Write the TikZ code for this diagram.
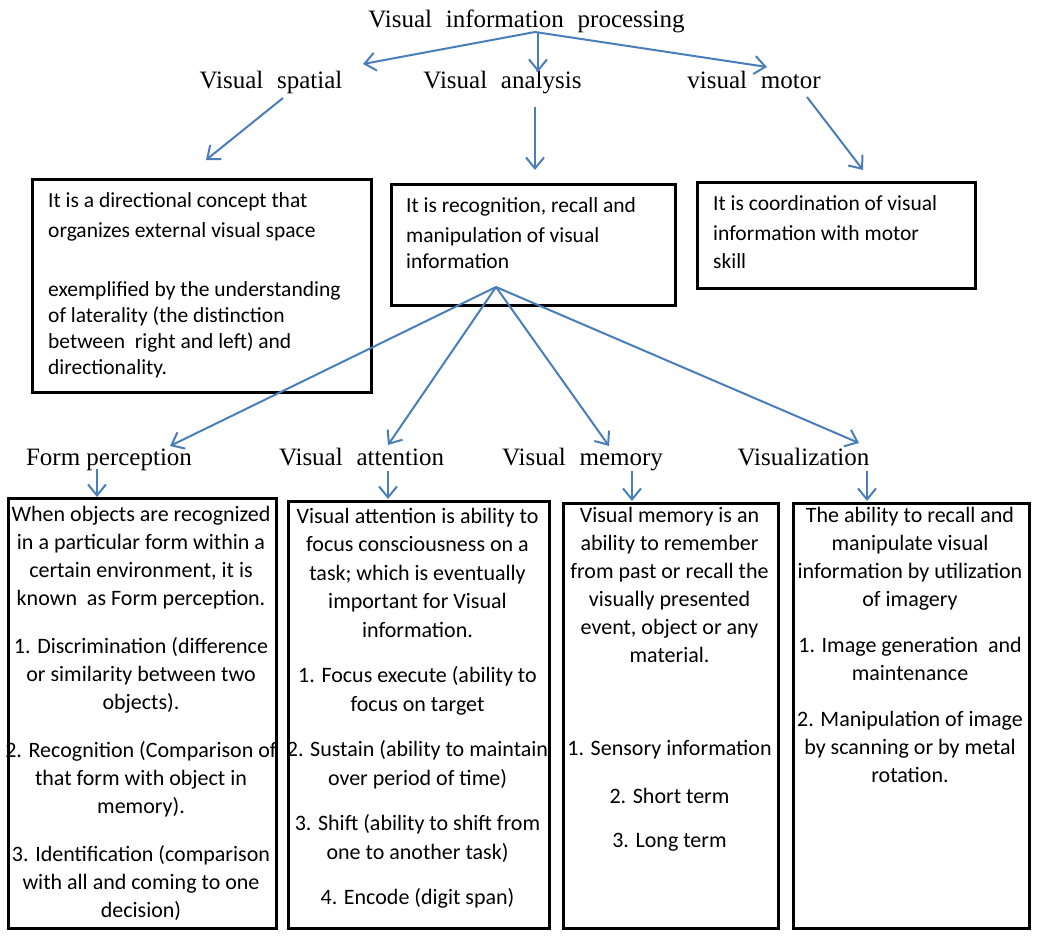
\documentclass[tikz,border=0pt]{standalone}
\usepackage{fontspec}
\setmainfont{Liberation Serif}
\newfontfamily\boxfont{Carlito}
\usetikzlibrary{arrows.meta}
\definecolor{arrowblue}{HTML}{4A7EBB}
\newcommand{\topfix}{\rule{0pt}{20pt}}
\begin{document}
\begin{tikzpicture}[x=1pt,y=-1pt,
  head/.style={font=\fontsize{25}{30}\selectfont, inner sep=0pt, anchor=base},
  boxtxt/.style={font=\boxfont\fontsize{21.5}{26}\selectfont, inner sep=0pt, align=left, anchor=north west},
  bottxt/.style={font=\boxfont\fontsize{22}{28}\selectfont, inner sep=0pt, align=center, anchor=north},
  frame/.style={draw=black, line width=2.5pt, inner sep=0pt, anchor=north west},
  link/.style={draw=arrowblue, line width=2pt, -{Straight Barb[length=11pt,width=18pt]}}]
\useasboundingbox (0,0) rectangle (1043,938);
\fill[white] (0,0) rectangle (1043,938);
% headings
\node[head] (title) at (526.5,27) {Visual\hspace{0.3em} information\hspace{0.3em} processing};
\node[head] (hspat) at (271,88) {Visual\hspace{0.3em} spatial};
\node[head] (hana) at (502.5,88) {Visual\hspace{0.3em} analysis};
\node[head] (hmot) at (754,88) {visual\hspace{0.3em} motor};
\node[head] (hform) at (109,465) {Form perception};
\node[head] (hatt) at (361.5,465) {Visual\hspace{0.3em} attention};
\node[head] (hmem) at (582.5,465) {Visual\hspace{0.3em} memory};
\node[head] (hviz) at (803.5,465) {Visualization};
% boxes
\node[frame, minimum width=339pt, minimum height=213pt] (b1) at (31,178) {};
\node[frame, minimum width=284pt, minimum height=121pt] (b2) at (390,183) {};
\node[frame, minimum width=278pt, minimum height=106pt] (b3) at (696,181) {};
\node[frame, minimum width=268pt, minimum height=430pt] (b4) at (7,497) {};
\node[frame, minimum width=261pt, minimum height=427pt] (b5) at (287,500) {};
\node[frame, minimum width=215pt, minimum height=425pt] (b6) at (562,502) {};
\node[frame, minimum width=236pt, minimum height=425pt] (b7) at (792,502) {};
% top box texts (position = first baseline - 20)
\node[boxtxt] (t1) at (48,187) {\topfix It is a directional concept that\\[4pt]
organizes external visual space\\[33pt]
exemplified by the understanding\\
of laterality (the distinction\\
between\ \ right and left) and\\
directionality.};
\node[boxtxt] (t2) at (406,192) {\topfix It is recognition, recall and\\[4pt]
manipulation of visual\\
information};
\node[boxtxt] (t3) at (713,190) {\topfix It is coordination of visual\\[4pt]
information with motor\\[2pt]
skill};
% bottom box texts
\node[bottxt] (t4) at (141,501) {\topfix When objects are recognized\\
in a particular form within a\\
certain environment, it is\\
known\ \ as Form perception.\\[20pt]
1. Discrimination (difference\\
or similarity between two\\
objects).\\[20pt]
2. Recognition (Comparison of\\
that form with object in\\
memory).\\[20pt]
3. Identification (comparison\\
with all and coming to one\\
decision)};
\node[bottxt, font=\boxfont\fontsize{22}{28.5}\selectfont] (t5) at (417.5,503) {\topfix Visual attention is ability to\\
focus consciousness on a\\
task; which is eventually\\
important for Visual\\
information.\\[17pt]
1. Focus execute (ability to\\
focus on target\\[17pt]
2. Sustain (ability to maintain\\
over period of time)\\[17pt]
3. Shift (ability to shift from\\
one to another task)\\[17pt]
4. Encode (digit span)};
\node[bottxt] (t6) at (669.5,502) {\topfix Visual memory is an\\
ability to remember\\
from past or recall the\\
visually presented\\
event, object or any\\
material.\\[65pt]
1. Sensory information\\[20pt]
2. Short term\\[16pt]
3. Long term};
\node[bottxt] (t7) at (910,502) {\topfix The ability to recall and\\
manipulate visual\\
information by utilization\\
of imagery\\[18pt]
1. Image generation\ \ and\\
maintenance\\[18pt]
2. Manipulation of image\\
by scanning or by metal\\
rotation.};
% connector end points
\coordinate (c0) at (535,32);
\coordinate (c0d) at (538,32);
\coordinate (e1) at (363,64);
\coordinate (e2) at (538,72);
\coordinate (e3) at (767,67);
\coordinate (s1) at (283,98);
\coordinate (f1) at (206,160);
\coordinate (s2) at (535,107);
\coordinate (f2) at (535,170);
\coordinate (s3) at (807,97);
\coordinate (f3) at (863,170);
\coordinate (c1) at (496,287);
\coordinate (g1) at (170,446);
\coordinate (g2) at (388,445);
\coordinate (g3) at (609,446);
\coordinate (g4) at (859,443);
\coordinate (u1) at (97,469);
\coordinate (v1) at (97,497);
\coordinate (u2) at (388,471);
\coordinate (v2) at (388,499);
\coordinate (u3) at (632,471);
\coordinate (v3) at (632,501);
\coordinate (u4) at (867,471);
\coordinate (v4) at (867,501);
% connectors
\draw[link] (c0) -- (e1);
\draw[link] (c0d) -- (e2);
\draw[link] (c0) -- (e3);
\draw[link] (s1) -- (f1);
\draw[link] (s2) -- (f2);
\draw[link] (s3) -- (f3);
\draw[link] (c1) -- (g1);
\draw[link] (c1) -- (g2);
\draw[link] (c1) -- (g3);
\draw[link] (c1) -- (g4);
\draw[link] (u1) -- (v1);
\draw[link] (u2) -- (v2);
\draw[link] (u3) -- (v3);
\draw[link] (u4) -- (v4);
\end{tikzpicture}
\end{document}
